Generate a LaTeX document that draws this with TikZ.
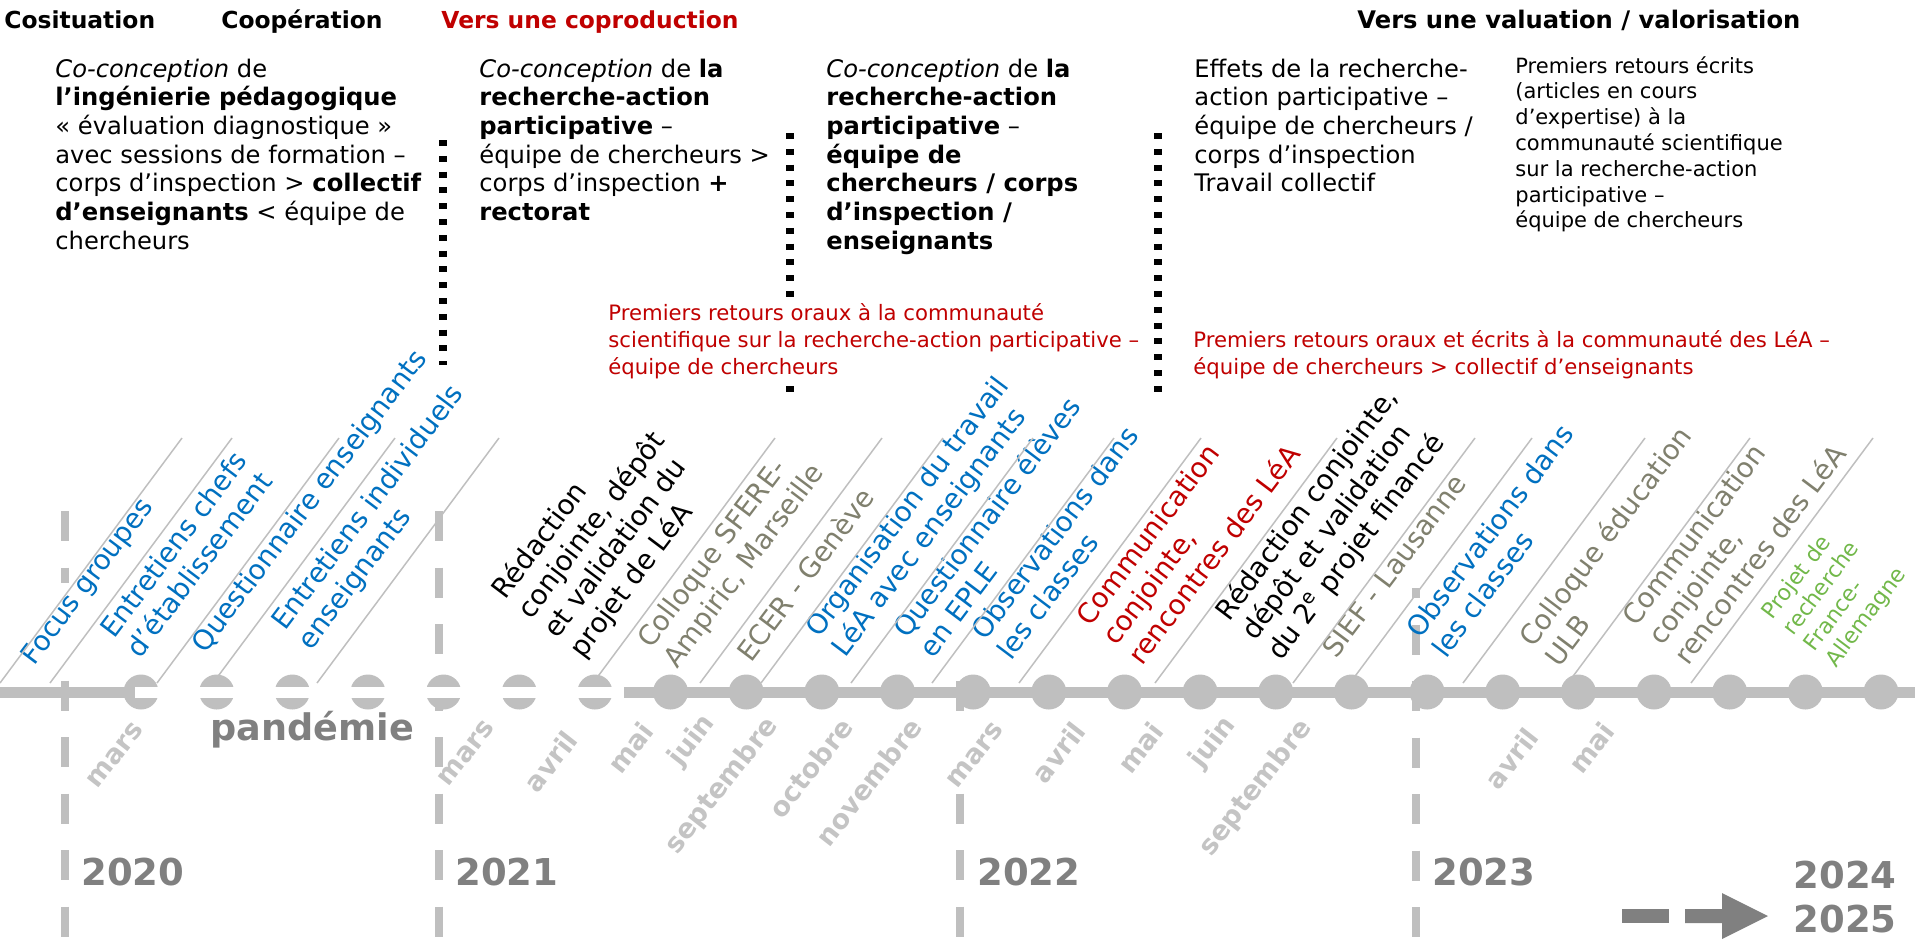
\documentclass[tikz,border=0pt]{standalone}
\usepackage{fontspec}
\setmainfont{DejaVu Sans}

\definecolor{tlgray}{HTML}{BFBFBF}
\definecolor{monthgray}{HTML}{C4C4C4}
\definecolor{yeargray}{HTML}{808080}
\definecolor{evblue}{HTML}{0070C0}
\definecolor{evred}{HTML}{C00000}
\definecolor{evolive}{HTML}{80806E}
\definecolor{evgreen}{HTML}{72B84A}

\newcommand{\evtext}[1]{\begin{tabular}[b]{@{}l@{}}#1\end{tabular}}
\newcommand{\blocktext}[1]{\begin{tabular}[t]{@{}l@{}}#1\end{tabular}}

\tikzset{
  phasetitle/.style={anchor=base west, inner sep=0pt, font=\bfseries\fontsize{11.7}{14}\selectfont},
  block/.style={anchor=base west, inner sep=0pt, font=\fontsize{12.1}{14.35}\selectfont},
  smallblock/.style={anchor=base west, inner sep=0pt, font=\fontsize{10.5}{12.9}\selectfont},
  feedback/.style={anchor=base west, inner sep=2pt, fill=white, text=evred, font=\fontsize{10.6}{13.5}\selectfont},
  phase/.style={draw=black, line width=3.6pt, dash pattern=on 3pt off 4.9pt},
  yearline/.style={draw=tlgray, line width=3.7pt, dash pattern=on 15pt off 13.25pt},
  evline/.style={draw=tlgray, line width=0.75pt},
  event/.style={anchor=base west, rotate=53, inner sep=1.5pt, font=\fontsize{13.8}{16.2}\selectfont},
  month/.style={anchor=base east, rotate=52, inner sep=1pt, text=monthgray, font=\bfseries\fontsize{13.5}{16}\selectfont},
  year/.style={anchor=base west, inner sep=0pt, text=yeargray, font=\bfseries\fontsize{18.5}{22}\selectfont},
}

\begin{document}
\begin{tikzpicture}[x=0.5pt,y=-0.5pt]
\useasboundingbox (0,0) rectangle (1915,939);

% year separators (partly hidden behind the labels)
\draw[yearline] (65,511) -- (65,583);
\draw[yearline] (65,680.5) -- (65,939);
\draw[yearline] (439,511) -- (439,939);
\draw[yearline] (960,680.5) -- (960,712);
\draw[yearline] (960,793.5) -- (960,939);
\draw[yearline, dash phase=10pt] (1416,588) -- (1416,939);

% phase separators
\draw[phase] (443,140) -- (443,365);
\draw[phase] (790,133) -- (790,395);
\draw[phase] (1158,133) -- (1158,395);

% phases
\node[phasetitle] (cosit) at (4,28) {Cosituation};
\node[phasetitle] (coop) at (221,28) {Coopération};
\node[phasetitle, text=evred] (coprod) at (441,28) {Vers une coproduction};
\node[phasetitle, font=\bfseries\fontsize{12.1}{14}\selectfont] (valo) at (1357,28) {Vers une valuation / valorisation};

\node[block] (cocons1) at (55,77) {\blocktext{\textit{Co-conception} de\\\textbf{l’ingénierie pédagogique}\\« évaluation diagnostique »\\avec sessions de formation –\\corps d’inspection > \textbf{collectif}\\\textbf{d’enseignants} < équipe de\\chercheurs}};
\node[block] (cocons2) at (479,77) {\blocktext{\textit{Co-conception} de \textbf{la}\\\textbf{recherche-action}\\\textbf{participative} –\\équipe de chercheurs >\\corps d’inspection \textbf{+}\\\textbf{rectorat}}};
\node[block] (cocons3) at (826,77) {\blocktext{\textit{Co-conception} de \textbf{la}\\\textbf{recherche-action}\\\textbf{participative} –\\\textbf{équipe de}\\\textbf{chercheurs / corps}\\\textbf{d’inspection /}\\\textbf{enseignants}}};
\node[block] (effets) at (1194,77) {\blocktext{Effets de la recherche-\\action participative –\\équipe de chercheurs /\\corps d’inspection\\Travail collectif}};
\node[smallblock] (ecrits) at (1515,73) {\blocktext{Premiers retours écrits\\(articles en cours\\d’expertise) à la\\communauté scientifique\\sur la recherche-action\\participative –\\équipe de chercheurs}};

\node[feedback] (oraux1) at (604,320) {\blocktext{Premiers retours oraux à la communauté\\scientifique sur la recherche-action participative –\\équipe de chercheurs}};
\node[feedback] (oraux2) at (1189,347) {\blocktext{Premiers retours oraux et écrits à la communauté des LéA –\\équipe de chercheurs > collectif d’enseignants}};

% events
\node[event, text=evblue] (focus) at (32,669) {\evtext{Focus groupes}};
\node[event, text=evblue] (chefs) at (138,662) {\evtext{Entretiens chefs\\d’établissement}};
\node[event, text=evblue] (quesens) at (203,657) {\evtext{Questionnaire enseignants}};
\node[event, text=evblue] (indiv) at (309,654) {\evtext{Entretiens individuels\\enseignants}};
\node[event] (redac1) at (581,662) {\evtext{Rédaction\\conjointe, dépôt\\et validation du\\projet de LéA}};
\node[event, text=evolive] (sfere) at (675,672) {\evtext{Colloque SFERE-\\Ampiric, Marseille}};
\node[event, text=evolive] (ecer) at (749,666) {\evtext{ECER - Genève}};
\node[event, text=evblue] (orga) at (843,661) {\evtext{Organisation du travail\\LéA avec enseignants}};
\node[event, text=evblue] (queseleves) at (931,662) {\evtext{Questionnaire élèves\\en EPLE}};
\node[event, text=evblue] (obs1) at (1009,664) {\evtext{Observations dans\\les classes}};
\node[event, text=evred] (comm1) at (1140,669) {\evtext{Communication\\conjointe,\\rencontres des LéA}};
\node[event] (redac2) at (1279,664) {\evtext{Rédaction conjointe,\\dépôt et validation\\du 2\textsuperscript{e} projet financé}};
\node[event, text=evolive] (sief) at (1334,662) {\evtext{SIEF - Lausanne}};
\node[event, text=evblue] (obs2) at (1444,662) {\evtext{Observations dans\\les classes}};
\node[event, text=evolive] (ulb) at (1557,671) {\evtext{Colloque éducation\\ULB}};
\node[event, text=evolive] (comm2) at (1686,669) {\evtext{Communication\\conjointe,\\rencontres des LéA}};
\node[event, text=evgreen, font=\fontsize{11}{13.2}\selectfont] (franceall) at (1834,671) {\evtext{Projet de\\recherche\\France-\\Allemagne}};

\foreach \b in {0,50,157,213,317,593,700,761,851,932,1019,1155,1293,1350,1463,1568,1691}
  \draw[evline] (\b,683) -- ++(182,-245);

% months
\node[month] (m01) at (146,728) {mars};
\node[month] (m02) at (497,726) {mars};
\node[month] (m03) at (581,739) {avril};
\node[month] (m04) at (657,730) {mai};
\node[month] (m05) at (717,721) {juin};
\node[month] (m06) at (780,724) {septembre};
\node[month] (m07) at (856,726) {octobre};
\node[month] (m08) at (925,726) {novembre};
\node[month] (m09) at (1006,728) {mars};
\node[month] (m10) at (1089,730) {avril};
\node[month] (m11) at (1167,730) {mai};
\node[month] (m12) at (1238,723) {juin};
\node[month] (m13) at (1314,726) {septembre};
\node[month] (m14) at (1542,736) {avril};
\node[month] (m15) at (1618,730) {mai};

% timeline
\draw[tlgray, line width=5.5pt] (0,692) -- (135,692);
\draw[tlgray, line width=5.5pt] (624,692) -- (1915,692);
\foreach \i in {0,...,23}
  \fill[tlgray] ({141+75.65*\i},692) circle[radius=8.75pt];
\draw[white, line width=5.5pt] (135,692) -- (624,692);

\node[year, font=\bfseries\fontsize{18.3}{22}\selectfont] (pandemie) at (210,740) {pandémie};
\node[year] (y2020) at (81,885) {2020};
\node[year] (y2021) at (455,885) {2021};
\node[year] (y2022) at (977,885) {2022};
\node[year] (y2023) at (1432,885) {2023};
\node[year, anchor=base east] (y2024) at (1897,888) {2024};
\node[year, anchor=base east] (y2025) at (1897,932) {2025};

% further on
\fill[yeargray] (1622,909) rectangle (1669,923);
\fill[yeargray] (1685,909) -- (1722,909) -- (1722,893) -- (1768,916)
  -- (1722,939) -- (1722,923) -- (1685,923) -- cycle;
\end{tikzpicture}
\end{document}
